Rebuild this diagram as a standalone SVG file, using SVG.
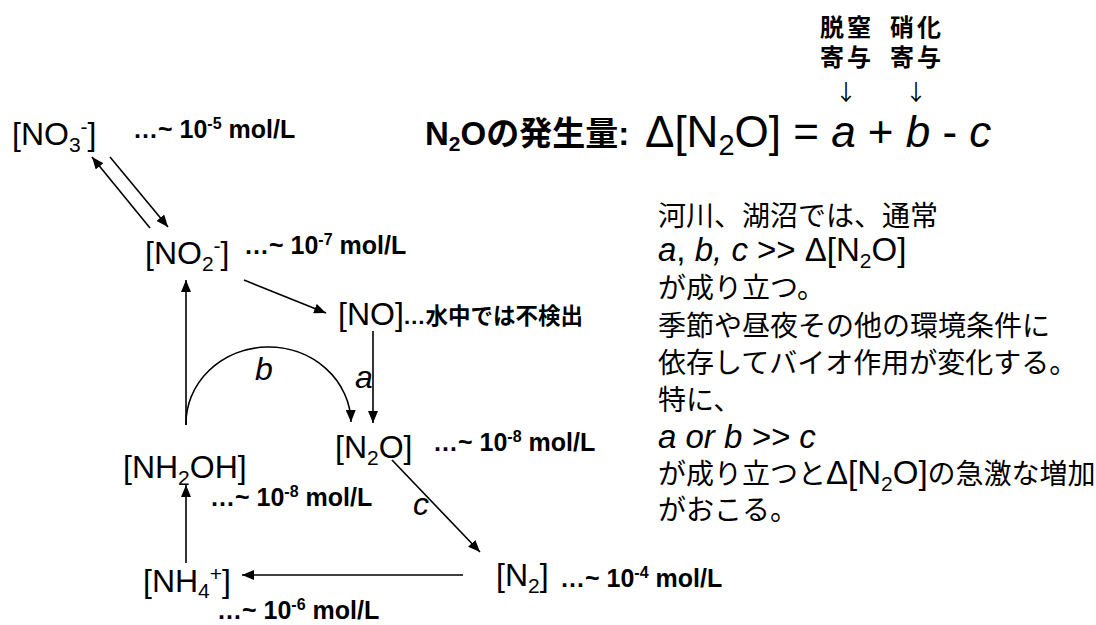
<svg xmlns="http://www.w3.org/2000/svg" width="1096" height="625" viewBox="0 0 1096 625">
<defs>
<style>
.lbl{font-family:"Liberation Sans",Arial,"Noto Sans CJK JP",sans-serif;font-size:32px;fill:#000}
.sub{font-size:21px}
.conc{font-family:"Liberation Sans",Arial,"Noto Sans CJK JP",sans-serif;font-size:25px;font-weight:bold;fill:#000}
.csup{font-size:16px}
.jp{font-family:"Liberation Sans",Arial,"Noto Sans CJK JP",sans-serif;font-size:28px;fill:#000}
.lt{font-size:33px}
.it{font-style:italic}
.jpb{font-family:"Liberation Sans",Arial,"Noto Sans CJK JP",sans-serif;font-weight:bold;fill:#000}
.eq{font-family:"Liberation Sans",Arial,sans-serif;font-size:44px;fill:#000}
.arr{font-family:"Noto Sans CJK JP","DejaVu Sans",sans-serif;font-size:22px;fill:#000}
.con{fill:none;stroke:#000;stroke-width:1.6}
</style>
<marker id="ah" viewBox="0 0 12 10" refX="12" refY="5" markerWidth="12" markerHeight="10" markerUnits="userSpaceOnUse" orient="auto">
<path d="M0,0 L12,5 L0,10 z" fill="#000"/>
</marker>
</defs>
<rect width="1096" height="625" fill="#fff"/>

<g id="connectors">
<path class="con" d="M150,228 L92,157" marker-end="url(#ah)"/>
<path class="con" d="M110,157 L168,227" marker-end="url(#ah)"/>
<path class="con" d="M244,280 L326,313" marker-end="url(#ah)"/>
<path class="con" d="M373,331 L373,423" marker-end="url(#ah)"/>
<path class="con" d="M186,425 L186,280" marker-end="url(#ah)"/>
<path class="con" d="M186,425 A82,76 0 0 1 351,422" marker-end="url(#ah)"/>
<path class="con" d="M392,460 L480,552" marker-end="url(#ah)"/>
<path class="con" d="M463,575 L242,575" marker-end="url(#ah)"/>
<path class="con" d="M186,563 L186,485" marker-end="url(#ah)"/>
<text class="lbl it" x="255" y="380">b</text>
<text class="lbl it" x="355" y="388">a</text>
<text class="lbl it" x="413" y="515">c</text>
</g>

<g id="no3">
<text class="lbl" x="12" y="145">[NO<tspan class="sub" dy="7">3</tspan><tspan class="sub" dy="-18">-</tspan><tspan dy="11">]</tspan></text>
<text class="conc" x="133" y="138">…~ 10<tspan class="csup" dy="-9">-5</tspan><tspan dy="9"> mol/L</tspan></text>
</g>

<g id="no2">
<text class="lbl" x="145" y="264">[NO<tspan class="sub" dy="7">2</tspan><tspan class="sub" dy="-18">-</tspan><tspan dy="11">]</tspan></text>
<text class="conc" x="244" y="254">…~ 10<tspan class="csup" dy="-9">-7</tspan><tspan dy="9"> mol/L</tspan></text>
</g>

<g id="no">
<text class="lbl" x="338" y="325">[NO]</text>
<text class="jpb" x="403" y="324" font-size="22.5">…水中では不検出</text>
</g>

<g id="n2o">
<text class="lbl" x="335" y="458">[N<tspan class="sub" dy="7">2</tspan><tspan dy="-7">O]</tspan></text>
<text class="conc" x="433" y="451">…~ 10<tspan class="csup" dy="-9">-8</tspan><tspan dy="9"> mol/L</tspan></text>
</g>

<g id="nh2oh">
<text class="lbl" x="123" y="478">[NH<tspan class="sub" dy="7">2</tspan><tspan dy="-7">OH]</tspan></text>
<text class="conc" x="210" y="506">…~ 10<tspan class="csup" dy="-9">-8</tspan><tspan dy="9"> mol/L</tspan></text>
</g>

<g id="n2">
<text class="lbl" x="496" y="586">[N<tspan class="sub" dy="7">2</tspan><tspan dy="-7">]</tspan></text>
<text class="conc" x="560" y="587">…~ 10<tspan class="csup" dy="-9">-4</tspan><tspan dy="9"> mol/L</tspan></text>
</g>

<g id="nh4">
<text class="lbl" x="143" y="592">[NH<tspan class="sub" dy="6">4</tspan><tspan class="sub" dy="-17">+</tspan><tspan dy="11">]</tspan></text>
<text class="conc" x="217" y="619">…~ 10<tspan class="csup" dy="-9">-6</tspan><tspan dy="9"> mol/L</tspan></text>
</g>

<g id="equation">
<text class="jpb" x="425" y="145" font-size="33">N<tspan font-size="21" dy="6">2</tspan><tspan dy="-6">Oの発生量:</tspan></text>
<text class="eq" x="645" y="147">Δ[N<tspan font-size="29" dy="8">2</tspan><tspan dy="-8">O] = </tspan><tspan class="it">a</tspan> + <tspan class="it">b</tspan> - <tspan class="it">c</tspan></text>
</g>

<g id="contrib">
<text class="jpb" x="820" y="36" font-size="24" letter-spacing="3">脱窒</text>
<text class="jpb" x="820" y="66" font-size="24" letter-spacing="3">寄与</text>
<text class="jpb" x="890" y="36" font-size="24" letter-spacing="3">硝化</text>
<text class="jpb" x="890" y="66" font-size="24" letter-spacing="3">寄与</text>
<text class="arr" x="846" y="100" text-anchor="middle">↓</text>
<text class="arr" x="916" y="100" text-anchor="middle">↓</text>
</g>

<g id="notes">
<text class="jp" x="658" y="226">河川、湖沼では、通常</text>
<text class="jp" x="658" y="261"><tspan class="lt"><tspan class="it">a</tspan>, <tspan class="it">b, c</tspan> &gt;&gt; Δ[N<tspan class="sub" dy="7">2</tspan><tspan dy="-7">O]</tspan></tspan></text>
<text class="jp" x="658" y="298">が成り立つ。</text>
<text class="jp" x="658" y="336">季節や昼夜その他の環境条件に</text>
<text class="jp" x="658" y="373">依存してバイオ作用が変化する。</text>
<text class="jp" x="658" y="410">特に、</text>
<text class="jp" x="658" y="448"><tspan class="lt it">a or b &gt;&gt; c</tspan></text>
<text class="jp" x="658" y="484">が成り立つと<tspan class="lt">Δ[N<tspan class="sub" dy="7">2</tspan><tspan dy="-7">O]</tspan></tspan>の急激な増加</text>
<text class="jp" x="658" y="520">がおこる。</text>
</g>
</svg>
